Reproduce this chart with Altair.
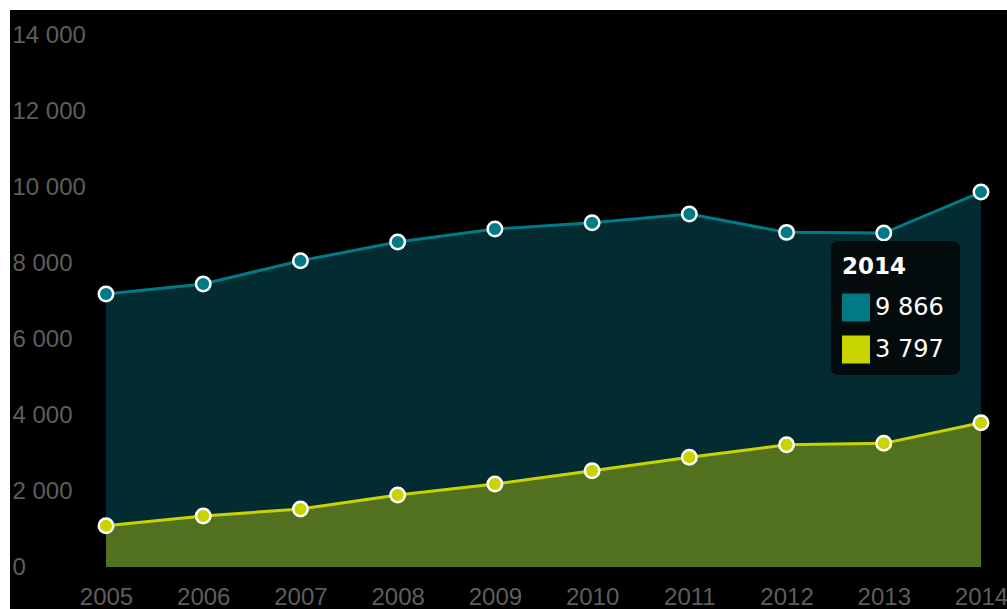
import altair as alt
import pandas as pd

years = [2005, 2006, 2007, 2008, 2009, 2010, 2011, 2012, 2013, 2014]
total = [7183, 7446, 8059, 8551, 8893, 9059, 9287, 8806, 8788, 9866]
part = [1087, 1342, 1526, 1894, 2184, 2534, 2886, 3218, 3254, 3797]
y_ticks = [0, 2000, 4000, 6000, 8000, 10000, 12000, 14000]

tip_year = "2014"
tip_total = "9 866"
tip_part = "3 797"

TEAL = "#007b86"
TEAL_AREA = "#022b32"
YEL = "#c8d400"
GREEN_AREA = "#52711f"
LABEL = "#5e5e5e"
FONT = "Liberation Sans"
TIP_FONT = "DejaVu Sans"

W, H = 875, 532

df = pd.DataFrame({"year": years, "total": total, "part": part})

xs = alt.Scale(domain=[2005, 2014], nice=False, zero=False)
ys = alt.Scale(domain=[0, 14000], nice=False)

xax = alt.Axis(values=years, format="d", title=None, ticks=False, domain=False, grid=False,
               labelFontSize=24, labelColor=LABEL, labelFont=FONT, labelPadding=18,
               labelBaseline="top", labelOverlap=False, labelFlush=False, zindex=1)
yax = alt.Axis(values=y_ticks, title=None, ticks=False, domain=False, grid=False,
               labelFontSize=24, labelColor=LABEL, labelFont=FONT, labelPadding=94,
               labelAlign="left", labelBaseline="middle", zindex=1,
               labelExpr="replace(format(datum.value, ',d'), ',', ' ')")

X = alt.X("year:Q", scale=xs, axis=xax)

bg = alt.Chart(pd.DataFrame({"a": [0]})).mark_rect(color="black").encode(
    x=alt.value(-96), x2=alt.value(W + 26), y=alt.value(-25), y2=alt.value(H + 42))

base = alt.Chart(df)
area_t = base.mark_area(color=TEAL_AREA, opacity=1).encode(
    x=X, y=alt.Y("total:Q", scale=ys, axis=yax))
area_p = base.mark_area(color=GREEN_AREA, opacity=1).encode(x=X, y=alt.Y("part:Q", scale=ys))
line_t = base.mark_line(color=TEAL, strokeWidth=3).encode(x=X, y=alt.Y("total:Q", scale=ys))
line_p = base.mark_line(color=YEL, strokeWidth=3).encode(x=X, y=alt.Y("part:Q", scale=ys))
pts_t = base.mark_point(filled=True, fill=TEAL, stroke="white", strokeWidth=2.5, size=210,
                        opacity=1).encode(x=X, y=alt.Y("total:Q", scale=ys))
pts_p = base.mark_point(filled=True, fill=YEL, stroke="white", strokeWidth=2.5, size=210,
                        opacity=1).encode(x=X, y=alt.Y("part:Q", scale=ys))

one = alt.Chart(pd.DataFrame({"a": [0]}))
tip_box = one.mark_rect(color="#040a0c", cornerRadius=7, opacity=0.97).encode(
    x=alt.value(725), x2=alt.value(854), y=alt.value(206), y2=alt.value(340))
tip_title = one.mark_text(text=tip_year, color="white", fontSize=23, fontWeight="bold",
                          font=TIP_FONT, align="left", baseline="middle").encode(
    x=alt.value(736), y=alt.value(232))
sw_t = one.mark_point(shape="square", filled=True, fill=TEAL, size=784, opacity=1).encode(
    x=alt.value(750), y=alt.value(272.5))
sw_p = one.mark_point(shape="square", filled=True, fill=YEL, size=784, opacity=1).encode(
    x=alt.value(750), y=alt.value(314.5))
txt_t = one.mark_text(text=tip_total, color="white", fontSize=24, font=TIP_FONT,
                      align="left", baseline="middle").encode(x=alt.value(769), y=alt.value(273))
txt_p = one.mark_text(text=tip_part, color="white", fontSize=24, font=TIP_FONT,
                      align="left", baseline="middle").encode(x=alt.value(769), y=alt.value(315))

chart = alt.layer(bg, area_t, area_p, line_t, line_p, pts_t, pts_p,
                  tip_box, tip_title, sw_t, sw_p, txt_t, txt_p).properties(
    width=W, height=H, background="white",
    padding={"left": 106, "top": 35, "right": 26, "bottom": 42},
    autosize=alt.AutoSizeParams(type="none"),
).configure_view(stroke=None)

chart.save("out.html", embed_options={"renderer": "svg", "actions": False})
